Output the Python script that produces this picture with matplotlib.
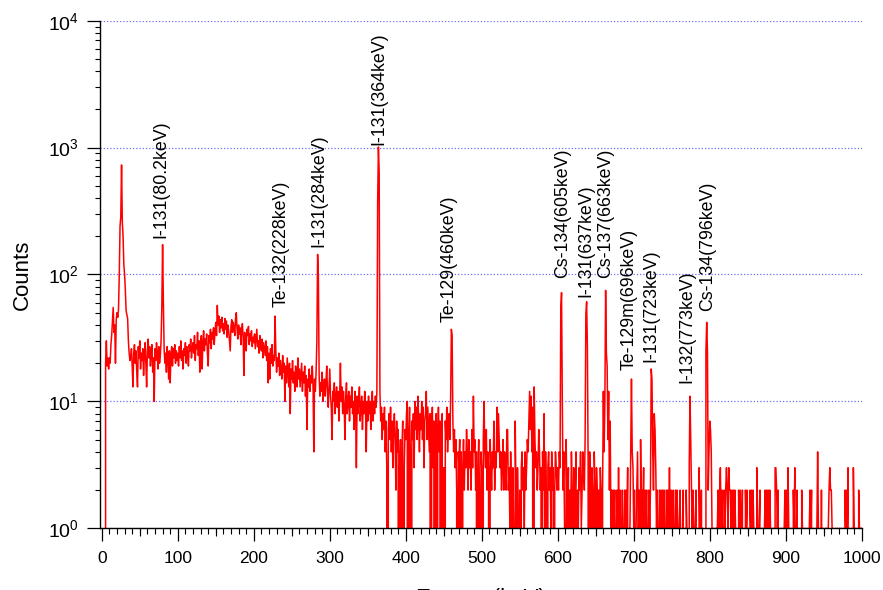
import matplotlib
matplotlib.use("Agg")
import matplotlib.pyplot as plt
import numpy as np
from matplotlib.ticker import FixedLocator, LogLocator, MultipleLocator, NullFormatter, NullLocator

# Counts per 1 keV channel (channel i = i keV)
counts_000 = [
    0, 0, 0, 0, 0, 20, 30, 19, 22, 18, 22, 20, 28, 33, 42, 55, 35, 40, 20, 44,
    50, 46, 53, 100, 240, 285, 730, 260, 200, 120, 100, 75, 52, 48, 45, 30, 24, 21, 22, 26,
    19, 13, 24, 28, 20, 25, 17, 13, 27, 22, 30, 18, 24, 21, 26, 16, 23, 29, 20, 13,
    25, 31, 22, 27, 19, 24, 28, 17, 22, 10, 26, 21, 29, 24, 18, 27, 20, 23, 30, 55,
    172, 62, 26, 20, 24, 17, 27, 22, 15, 25, 14, 23, 27, 19, 26, 22, 28, 20, 25, 21,
]
counts_100 = [
    24, 19, 27, 22, 30, 21, 25, 18, 26, 23, 29, 20, 27, 24, 19, 28, 25, 31, 22, 26,
    29, 24, 33, 21, 28, 26, 35, 23, 30, 17, 27, 33, 18, 29, 36, 25, 31, 28, 34, 24,
    19, 33, 29, 37, 26, 35, 31, 38, 28, 36, 42, 33, 57, 40, 47, 35, 44, 38, 46, 36,
    41, 34, 45, 37, 43, 32, 40, 36, 30, 25, 39, 44, 35, 42, 38, 33, 45, 50, 37, 31,
    40, 34, 38, 28, 36, 41, 32, 16, 35, 30, 25, 37, 33, 39, 28, 34, 30, 36, 27, 32,
]
counts_200 = [
    29, 34, 26, 31, 37, 27, 30, 24, 33, 28, 25, 31, 22, 29, 26, 23, 30, 21, 27, 14,
    24, 15, 26, 20, 28, 19, 23, 21, 47, 25, 17, 22, 19, 24, 16, 21, 18, 15, 23, 17,
    20, 10, 19, 14, 22, 17, 13, 20, 8, 18, 15, 21, 14, 17, 12, 19, 16, 13, 22, 15,
    18, 13, 16, 20, 12, 17, 14, 19, 11, 16, 6, 15, 13, 18, 12, 16, 14, 19, 13, 4,
    15, 12, 17, 30, 144, 96, 16, 11, 14, 12, 17, 10, 13, 15, 11, 14, 19, 12, 9, 13,
]
counts_300 = [
    18, 11, 9, 5, 12, 10, 14, 8, 11, 13, 9, 12, 7, 11, 20, 10, 13, 8, 12, 9,
    5, 11, 14, 8, 10, 12, 7, 11, 9, 13, 8, 10, 6, 12, 9, 3, 11, 8, 10, 13,
    7, 9, 11, 6, 10, 8, 12, 9, 4, 10, 7, 11, 8, 10, 6, 9, 12, 7, 10, 8,
    11, 9, 12, 364, 1011, 645, 12, 7, 9, 5, 8, 6, 9, 4, 7, 3, 0, 6, 8, 5,
    9, 4, 7, 3, 6, 8, 5, 2, 7, 4, 6, 0, 3, 5, 0, 4, 7, 0, 3, 6,
]
counts_400 = [
    5, 8, 10, 0, 6, 9, 4, 0, 7, 5, 8, 3, 10, 6, 9, 5, 11, 7, 4, 8,
    6, 10, 5, 9, 3, 7, 8, 12, 5, 9, 6, 4, 8, 0, 6, 9, 3, 7, 0, 5,
    8, 0, 6, 9, 4, 7, 0, 5, 8, 0, 3, 0, 7, 5, 9, 4, 6, 8, 5, 10,
    37, 33, 7, 4, 6, 3, 5, 2, 0, 4, 3, 5, 0, 4, 0, 3, 5, 2, 4, 3,
    6, 4, 2, 5, 3, 4, 2, 6, 3, 11, 4, 5, 2, 4, 0, 3, 5, 2, 0, 4,
]
counts_500 = [
    3, 0, 5, 10, 4, 3, 6, 2, 4, 3, 0, 5, 3, 2, 4, 3, 7, 2, 4, 3,
    9, 4, 8, 5, 3, 4, 2, 3, 5, 2, 4, 3, 2, 6, 6, 2, 3, 1, 4, 2,
    0, 3, 1, 0, 7, 2, 0, 3, 1, 0, 2, 0, 3, 4, 2, 3, 1, 4, 2, 3,
    5, 4, 7, 12, 6, 11, 4, 9, 0, 13, 5, 3, 4, 2, 3, 6, 4, 2, 3, 0,
    4, 2, 8, 1, 4, 2, 0, 3, 4, 2, 3, 1, 4, 2, 3, 0, 2, 4, 3, 2,
]
counts_600 = [
    3, 2, 4, 3, 54, 72, 10, 2, 4, 1, 0, 5, 2, 1, 3, 0, 2, 1, 4, 2,
    0, 3, 1, 2, 4, 0, 2, 1, 3, 2, 4, 1, 2, 4, 3, 2, 5, 49, 61, 27,
    3, 0, 4, 2, 1, 3, 2, 0, 4, 2, 1, 3, 2, 0, 2, 1, 3, 2, 0, 2,
    12, 4, 10, 75, 24, 19, 5, 12, 2, 7, 1, 2, 0, 2, 1, 2, 0, 1, 2, 1,
    3, 1, 2, 0, 1, 2, 1, 0, 2, 1, 2, 1, 3, 0, 1, 1, 4, 15, 4, 3,
]
counts_700 = [
    1, 2, 0, 1, 2, 4, 1, 2, 0, 5, 1, 2, 1, 3, 0, 2, 1, 2, 0, 1,
    2, 1, 2, 18, 15, 4, 2, 8, 6, 3, 1, 2, 0, 1, 2, 1, 2, 0, 2, 1,
    2, 1, 0, 2, 1, 2, 1, 3, 1, 2, 0, 1, 2, 1, 0, 2, 1, 2, 1, 0,
    1, 2, 0, 0, 1, 2, 0, 1, 0, 2, 1, 0, 0, 3, 11, 5, 2, 1, 2, 1,
    0, 1, 2, 0, 1, 0, 3, 1, 0, 2, 0, 1, 0, 0, 0, 25, 42, 25, 2, 4,
]
counts_800 = [
    7, 6, 4, 1, 0, 1, 0, 1, 0, 1, 1, 2, 1, 2, 3, 1, 2, 1, 0, 2,
    1, 2, 3, 2, 1, 3, 2, 2, 1, 2, 1, 2, 0, 2, 1, 0, 1, 0, 2, 1,
    2, 0, 1, 2, 0, 1, 0, 2, 1, 2, 0, 1, 0, 2, 1, 2, 0, 2, 1, 0,
    1, 0, 3, 1, 0, 1, 2, 0, 1, 0, 1, 0, 1, 2, 1, 2, 1, 2, 0, 2,
    1, 0, 1, 0, 1, 0, 3, 3, 2, 1, 2, 0, 1, 0, 1, 0, 1, 0, 1, 2,
]
counts_900 = [
    1, 2, 0, 3, 1, 0, 1, 0, 1, 0, 2, 1, 3, 0, 1, 2, 0, 1, 0, 1,
    0, 2, 1, 0, 1, 0, 1, 0, 0, 1, 0, 1, 2, 1, 2, 0, 1, 0, 0, 1,
    0, 1, 4, 1, 0, 1, 0, 2, 0, 1, 0, 0, 1, 0, 1, 0, 1, 2, 3, 2,
    2, 1, 0, 1, 0, 0, 1, 0, 1, 0, 0, 1, 0, 1, 0, 0, 1, 0, 2, 1,
    2, 1, 3, 0, 1, 0, 0, 1, 0, 3, 1, 0, 1, 0, 1, 0, 2, 1, 0, 1,
]

# Identified peaks: label text, label anchor (keV) and counts at the label's lower end
peak_names = [
    "I-131(80.2keV)", "Te-132(228keV)", "I-131(284keV)", "I-131(364keV)",
    "Te-129(460keV)", "Cs-134(605keV)", "I-131(637keV)", "Cs-137(663keV)",
    "Te-129m(696keV)", "I-131(723keV)", "I-132(773keV)", "Cs-134(796keV)",
]
peak_label_kev = [77.3, 235.6, 286.2, 365.1, 457.3, 606.4, 637.1, 663.4, 694.2, 722.7, 769.9, 797.3]
peak_label_counts = [193, 55, 165, 1043, 42, 93, 67, 93, 17.6, 20.5, 13.9, 52]

plt.rcParams["font.family"] = ["Liberation Sans", "DejaVu Sans"]
plt.rcParams["mathtext.default"] = "regular"

counts = np.concatenate([counts_000, counts_100, counts_200, counts_300, counts_400,
                         counts_500, counts_600, counts_700, counts_800, counts_900])
energy_kev = np.arange(counts.size)

fig = plt.figure(figsize=(8.83, 5.90), dpi=100)
ax = fig.add_axes([0.1127, 0.1046, 0.8632, 0.8603])

ax.plot(energy_kev, counts, color="#ff0000", linewidth=1.1)
ax.set_yscale("log")
ax.set_xlim(-3, 1000)
ax.set_ylim(1, 1e4)

ax.spines[["top", "right"]].set_visible(False)
for side in ("left", "bottom"):
    ax.spines[side].set_linewidth(1.0)

# x ticks: labelled every 100, medium every 50, small every 10
ax.xaxis.set_major_locator(MultipleLocator(100))
ax.xaxis.set_minor_locator(MultipleLocator(10))
ax.tick_params(axis="x", which="major", length=9.4, width=0.9, pad=7, labelsize=12.5)
ax.tick_params(axis="x", which="minor", length=4.3, width=0.8)

mid = ax.secondary_xaxis("bottom")
mid.xaxis.set_major_locator(FixedLocator(np.arange(50, 1000, 100)))
mid.xaxis.set_minor_locator(NullLocator())
mid.tick_params(axis="x", length=6.0, width=0.8, labelbottom=False)
mid.spines["bottom"].set_visible(False)

ax.yaxis.set_major_locator(LogLocator(base=10, numticks=10))
ax.yaxis.set_minor_locator(LogLocator(base=10, subs=np.arange(2, 10), numticks=10))
ax.yaxis.set_minor_formatter(NullFormatter())
ax.tick_params(axis="y", which="major", length=9.1, width=0.9, pad=6, labelsize=14)
ax.tick_params(axis="y", which="minor", length=3.6, width=0.8)

ax.grid(True, axis="y", which="major", color="#6f6fff", linestyle=(0, (1, 1.6)), linewidth=0.9)
ax.grid(False, axis="x")

for name, x, y in zip(peak_names, peak_label_kev, peak_label_counts):
    ax.text(x, y, name, rotation=90, ha="center", va="bottom", fontsize=12.8)

ax.set_ylabel("Counts", fontsize=16)
ax.yaxis.set_label_coords(-0.088, 0.5)
# the reference crops this label at the bottom edge of the image
ax.set_xlabel("Energy (keV)", fontsize=16)
ax.xaxis.set_label_coords(0.5, -0.1176)

fig.savefig("out.png", dpi=100)
plt.close(fig)
